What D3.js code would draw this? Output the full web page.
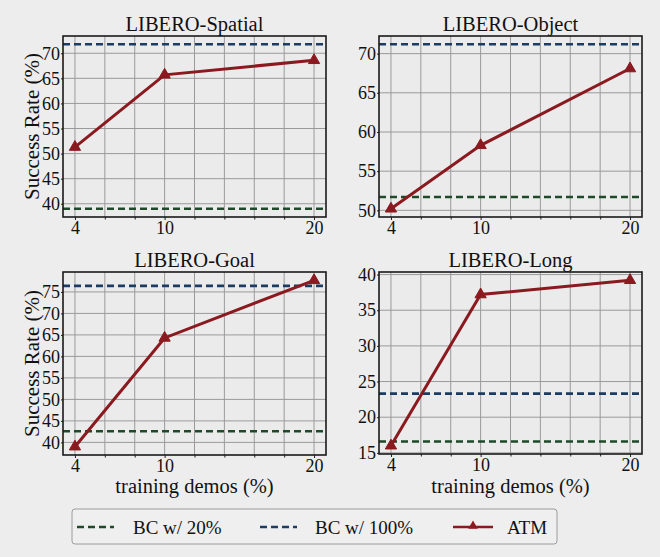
<!DOCTYPE html>
<html><head><meta charset="utf-8">
<script src="https://cdn.jsdelivr.net/npm/d3@7"></script>
<style>
html,body{margin:0;padding:0;background:#ededed;}
svg{display:block;}
svg text{font-family:"Times New Roman","Liberation Serif",Tinos,"DejaVu Serif","Noto Serif",FreeSerif,serif !important;fill:#111;}
</style></head>
<body>
<script>
// ---- data ----
const demos = [4, 10, 20];
const titles = ["LIBERO-Spatial", "LIBERO-Object", "LIBERO-Goal", "LIBERO-Long"];
const atm = [
  [51.3, 65.7, 68.6],
  [50.2, 58.3, 68.1],
  [39.0, 64.3, 77.7],
  [16.0, 37.2, 39.2]
];
const bc20 = [39.0, 51.7, 42.6, 16.6];
const bc100 = [71.8, 71.2, 76.4, 23.3];
const yTicks = [
  [40, 45, 50, 55, 60, 65, 70],
  [50, 55, 60, 65, 70],
  [40, 45, 50, 55, 60, 65, 70, 75],
  [15, 20, 25, 30, 35, 40]
];
const xTicks = [4, 10, 20];
const xGrid = [4, 6, 8, 10, 12, 14, 16, 18, 20];
const legendLabels = ["BC w/ 20%", "BC w/ 100%", "ATM"];

const W = 660, H = 557;
const FONT = '"Times New Roman","Liberation Serif",Tinos,"DejaVu Serif","Noto Serif",serif';
const cGreen = "#1e4a2a", cBlue = "#1d3c63", cRed = "#8a1a1f";

const svg = d3.select("body").append("svg").attr("width", W).attr("height", H)
  .attr("font-family", FONT);
svg.append("rect").attr("width", W).attr("height", H).attr("fill", "#ededed");

const panels = [
  {l: 63, r: 326, t: 36, b: 217, ylab: true, xlab: false},
  {l: 379, r: 642, t: 36, b: 217, ylab: false, xlab: false},
  {l: 63, r: 326, t: 272, b: 455, ylab: true, xlab: true},
  {l: 379, r: 642, t: 272, b: 454, ylab: false, xlab: true}
];

panels.forEach((p, i) => {
  const g = svg.append("g");
  const xd = d3.extent(demos), xr = xd[1] - xd[0];
  const x = d3.scaleLinear().domain([xd[0] - 0.05 * xr, xd[1] + 0.05 * xr]).range([p.l, p.r]);
  const all = atm[i].concat([bc20[i], bc100[i]]);
  const yd = d3.extent(all), yr = yd[1] - yd[0];
  const y = d3.scaleLinear().domain([yd[0] - 0.05 * yr, yd[1] + 0.05 * yr]).range([p.b, p.t]);

  g.append("rect").attr("x", p.l).attr("y", p.t).attr("width", p.r - p.l).attr("height", p.b - p.t).attr("fill", "#ebebeb");

  // grid
  g.selectAll(".vg").data(xGrid).join("line")
    .attr("x1", d => x(d)).attr("x2", d => x(d)).attr("y1", p.t).attr("y2", p.b)
    .attr("stroke", "#9a9a9a").attr("stroke-width", 1);
  g.selectAll(".hg").data(yTicks[i]).join("line")
    .attr("x1", p.l).attr("x2", p.r).attr("y1", d => y(d)).attr("y2", d => y(d))
    .attr("stroke", "#9a9a9a").attr("stroke-width", 1);

  // axes
  const xa = g.append("g").attr("transform", `translate(0,${p.b})`)
    .call(d3.axisBottom(x).tickValues(xTicks).tickSize(3).tickPadding(1).tickFormat(d3.format("d")));
  xa.attr("font-family", FONT);
  xa.select(".domain").remove();
  xa.selectAll("text").attr("font-size", 18).attr("fill", "#111");
  xa.selectAll("line").attr("stroke", "#222");
  const xm = g.append("g").attr("transform", `translate(0,${p.b})`)
    .call(d3.axisBottom(x).tickValues(xGrid.filter(v => xTicks.indexOf(v) < 0)).tickSize(2.5).tickFormat(""));
  xm.select(".domain").remove();
  xm.selectAll("line").attr("stroke", "#222");

  const ya = g.append("g").attr("transform", `translate(${p.l},0)`)
    .call(d3.axisLeft(y).tickValues(yTicks[i]).tickSize(2).tickPadding(1).tickFormat(d3.format("d")));
  ya.attr("font-family", FONT);
  ya.select(".domain").remove();
  ya.selectAll("text").attr("font-size", 18).attr("fill", "#111");
  ya.selectAll("line").attr("stroke", "#222");

  // horizontal reference lines
  [[bc20[i], cGreen], [bc100[i], cBlue]].forEach(([v, c]) => {
    g.append("line").attr("x1", p.l).attr("x2", p.r).attr("y1", y(v)).attr("y2", y(v))
      .attr("stroke", c).attr("stroke-width", 2.6).attr("stroke-dasharray", "7,4");
  });

  // ATM line
  const line = d3.line().x((d, k) => x(demos[k])).y(d => y(d));
  g.append("path").datum(atm[i]).attr("d", line).attr("fill", "none")
    .attr("stroke", cRed).attr("stroke-width", 3);
  g.selectAll(".mk").data(atm[i]).join("path")
    .attr("transform", (d, k) => `translate(${x(demos[k])},${y(d)})`)
    .attr("d", d3.symbol().type(d3.symbolTriangle).size(55))
    .attr("fill", cRed).attr("stroke", cRed).attr("stroke-width", 1);

  // frame
  g.append("rect").attr("x", p.l).attr("y", p.t).attr("width", p.r - p.l).attr("height", p.b - p.t)
    .attr("fill", "none").attr("stroke", "#1a1a1a").attr("stroke-width", 1.6);

  // title
  g.append("text").attr("x", (p.l + p.r) / 2).attr("y", p.t - 5).attr("text-anchor", "middle")
    .attr("font-size", 20.5).text(titles[i]);
  if (p.ylab) {
    g.append("text").attr("transform", `translate(${p.l - 24},${(p.t + p.b) / 2}) rotate(-90)`)
      .attr("text-anchor", "middle").attr("font-size", 21).text("Success Rate (%)");
  }
  if (p.xlab) {
    g.append("text").attr("x", (p.l + p.r) / 2).attr("y", 493).attr("text-anchor", "middle")
      .attr("font-size", 20.5).text("training demos (%)");
  }
});

// legend
const lg = svg.append("g");
lg.append("rect").attr("x", 72).attr("y", 509).attr("width", 485).attr("height", 35).attr("rx", 3)
  .attr("fill", "#efefef").attr("stroke", "#9c9c9c").attr("stroke-width", 1);
const legendItems = [
  {x1: 77, x2: 114, tx: 133, c: cGreen, dash: true},
  {x1: 260, x2: 297, tx: 315, c: cBlue, dash: true},
  {x1: 453, x2: 493, tx: 507, c: cRed, dash: false}
];
legendItems.forEach((it, k) => {
  const ly = 527;
  lg.append("line").attr("x1", it.x1).attr("x2", it.x2).attr("y1", ly).attr("y2", ly)
    .attr("stroke", it.c).attr("stroke-width", it.dash ? 2.6 : 2.4)
    .attr("stroke-dasharray", it.dash ? "7,4" : null);
  if (!it.dash) {
    lg.append("path").attr("transform", `translate(${(it.x1 + it.x2) / 2},${ly - 1})`)
      .attr("d", d3.symbol().type(d3.symbolTriangle).size(40)).attr("fill", it.c);
  }
  lg.append("text").attr("x", it.tx).attr("y", ly + 6.5).attr("font-size", 19).text(legendLabels[k]);
});
</script>
</body></html>
